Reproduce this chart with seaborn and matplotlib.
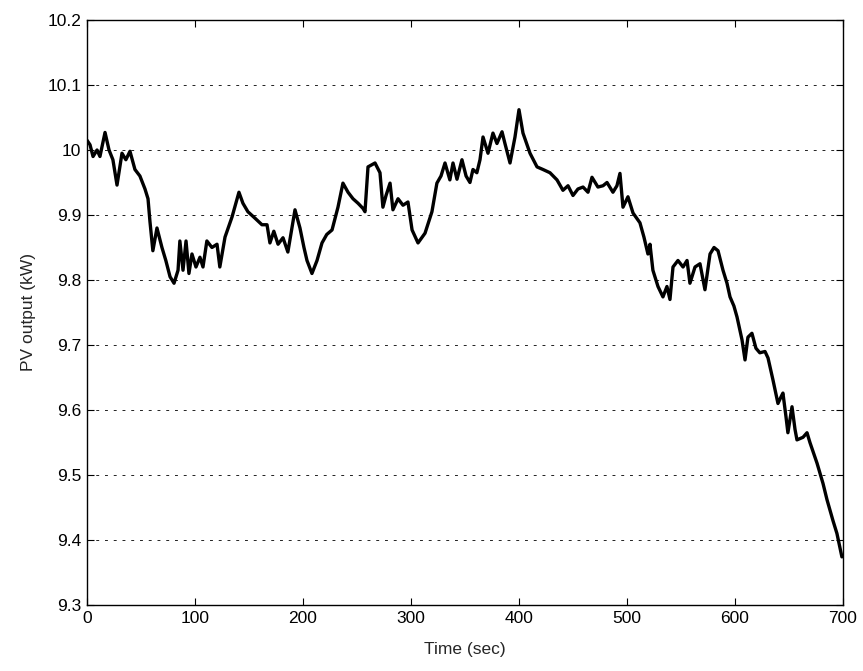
import matplotlib
matplotlib.use("Agg")
import matplotlib.pyplot as plt
import seaborn as sns
import pandas as pd

time_sec = [0, 2.8, 5.6, 9.3, 12, 16.7, 20.4, 24, 27.8, 32.4, 36, 39.8, 44.4, 49, 53.7, 56.5,
            58.3, 61, 64.8, 69.4, 73, 76.9, 80.6, 84.3, 86, 88.9, 91.7, 94.4, 97.2, 100.9,
            104.6, 107.4, 111, 115.7, 120.4, 123, 127.8, 134.3, 140.7, 144.4, 149, 155.6,
            162, 166.7, 169.4, 173, 176.9, 181.5, 186, 189.8, 192.6, 197.2, 200.9, 203.7,
            208.3, 213, 217.6, 222, 226.9, 232.4, 237, 241.7, 246.3, 251, 255.6, 257.4,
            260.2, 266.7, 271.3, 274, 276.9, 280.6, 283.3, 288, 292.6, 297.2, 301, 306.5,
            313, 319.4, 324, 327.8, 331.5, 336, 338.9, 342.6, 347.2, 351, 354.6, 357.4,
            361, 363.9, 366.7, 371.3, 375.9, 379.6, 384.3, 387, 391.7, 396.3, 400, 403.7,
            410.2, 416.7, 422.2, 428.7, 435.2, 440.7, 445.4, 450, 454.6, 459.3, 463.9,
            467.6, 473.1, 477.8, 481.5, 487, 490.7, 493.5, 496.3, 500.9, 505.6, 512,
            515.7, 519.4, 521.3, 524, 528.7, 533.3, 537, 539.8, 542.6, 547.2, 551.9,
            555.6, 558.3, 563, 567.6, 572.2, 576.9, 580.6, 584.3, 588.9, 592.6, 595.4,
            599, 601.9, 606.5, 609.3, 612, 615.7, 619.4, 623, 627.8, 630.6, 635.2, 639.8,
            642.6, 644.4, 647.2, 649, 652.8, 655.6, 657.4, 663, 666.7, 669.4, 676, 681.5,
            685.2, 690.7, 694.4, 699]
pv_kw = [10.015, 10.008, 9.99, 10.0, 9.99, 10.027, 10.0, 9.985, 9.946, 9.995, 9.985, 9.998,
         9.97, 9.96, 9.94, 9.925, 9.89, 9.845, 9.88, 9.85, 9.83, 9.805, 9.795, 9.815, 9.86,
         9.815, 9.86, 9.81, 9.84, 9.82, 9.835, 9.82, 9.86, 9.85, 9.855, 9.82, 9.866, 9.897,
         9.935, 9.918, 9.905, 9.895, 9.885, 9.885, 9.857, 9.875, 9.855, 9.865, 9.843, 9.88,
         9.908, 9.88, 9.85, 9.83, 9.81, 9.83, 9.857, 9.87, 9.877, 9.912, 9.949, 9.935,
         9.925, 9.918, 9.91, 9.905, 9.974, 9.98, 9.965, 9.912, 9.93, 9.949, 9.908, 9.925,
         9.915, 9.92, 9.877, 9.857, 9.872, 9.905, 9.949, 9.96, 9.98, 9.954, 9.98, 9.955,
         9.985, 9.96, 9.95, 9.97, 9.965, 9.985, 10.02, 9.995, 10.026, 10.01, 10.028, 10.01,
         9.98, 10.02, 10.062, 10.026, 9.995, 9.974, 9.97, 9.965, 9.954, 9.938, 9.945, 9.93,
         9.94, 9.943, 9.935, 9.958, 9.943, 9.945, 9.95, 9.935, 9.945, 9.964, 9.912, 9.928,
         9.903, 9.888, 9.866, 9.84, 9.855, 9.815, 9.79, 9.774, 9.79, 9.77, 9.82, 9.83,
         9.82, 9.83, 9.795, 9.82, 9.825, 9.785, 9.84, 9.85, 9.845, 9.815, 9.795, 9.774,
         9.76, 9.743, 9.708, 9.677, 9.712, 9.718, 9.695, 9.688, 9.69, 9.68, 9.646, 9.61,
         9.62, 9.626, 9.59, 9.565, 9.605, 9.57, 9.554, 9.558, 9.565, 9.55, 9.518, 9.487,
         9.462, 9.43, 9.41, 9.374]

x_ticks = [0, 100, 200, 300, 400, 500, 600, 700]
y_ticks = [9.3, 9.4, 9.5, 9.6, 9.7, 9.8, 9.9, 10.0, 10.1, 10.2]
y_tick_labels = ["9.3", "9.4", "9.5", "9.6", "9.7", "9.8", "9.9", "10", "10.1", "10.2"]

sns.set_style("ticks")
plt.rcParams['font.family'] = ['Liberation Sans', 'DejaVu Sans']

df = pd.DataFrame({"Time (sec)": time_sec, "PV output (kW)": pv_kw})

fig = plt.figure(figsize=(8.63, 6.71), dpi=100)
ax = fig.add_axes([0.1008, 0.0984, 0.8760, 0.8718])

sns.lineplot(data=df, x="Time (sec)", y="PV output (kW)", ax=ax,
             color="black", linewidth=2.4, sort=False, estimator=None)

ax.set_xlim(0, 700)
ax.set_ylim(9.3, 10.2)
ax.set_xticks(x_ticks)
ax.set_yticks(y_ticks)
ax.set_yticklabels(y_tick_labels)
ax.tick_params(direction="in", length=5, width=0.8, labelsize=12.5, colors="black",
               top=True, right=True, pad=4)
for s in ax.spines.values():
    s.set_visible(True)
    s.set_color("black")
    s.set_linewidth(1.0)

for y in y_ticks[1:-1]:
    ax.axhline(y, color="#222222", linewidth=0.7, linestyle=(0, (3, 6)), zorder=0)

ax.set_xlabel("Time (sec)", fontsize=12.5, labelpad=12)
ax.set_ylabel("PV output (kW)", fontsize=12.5, labelpad=8)

fig.savefig("out.png", dpi=100)
